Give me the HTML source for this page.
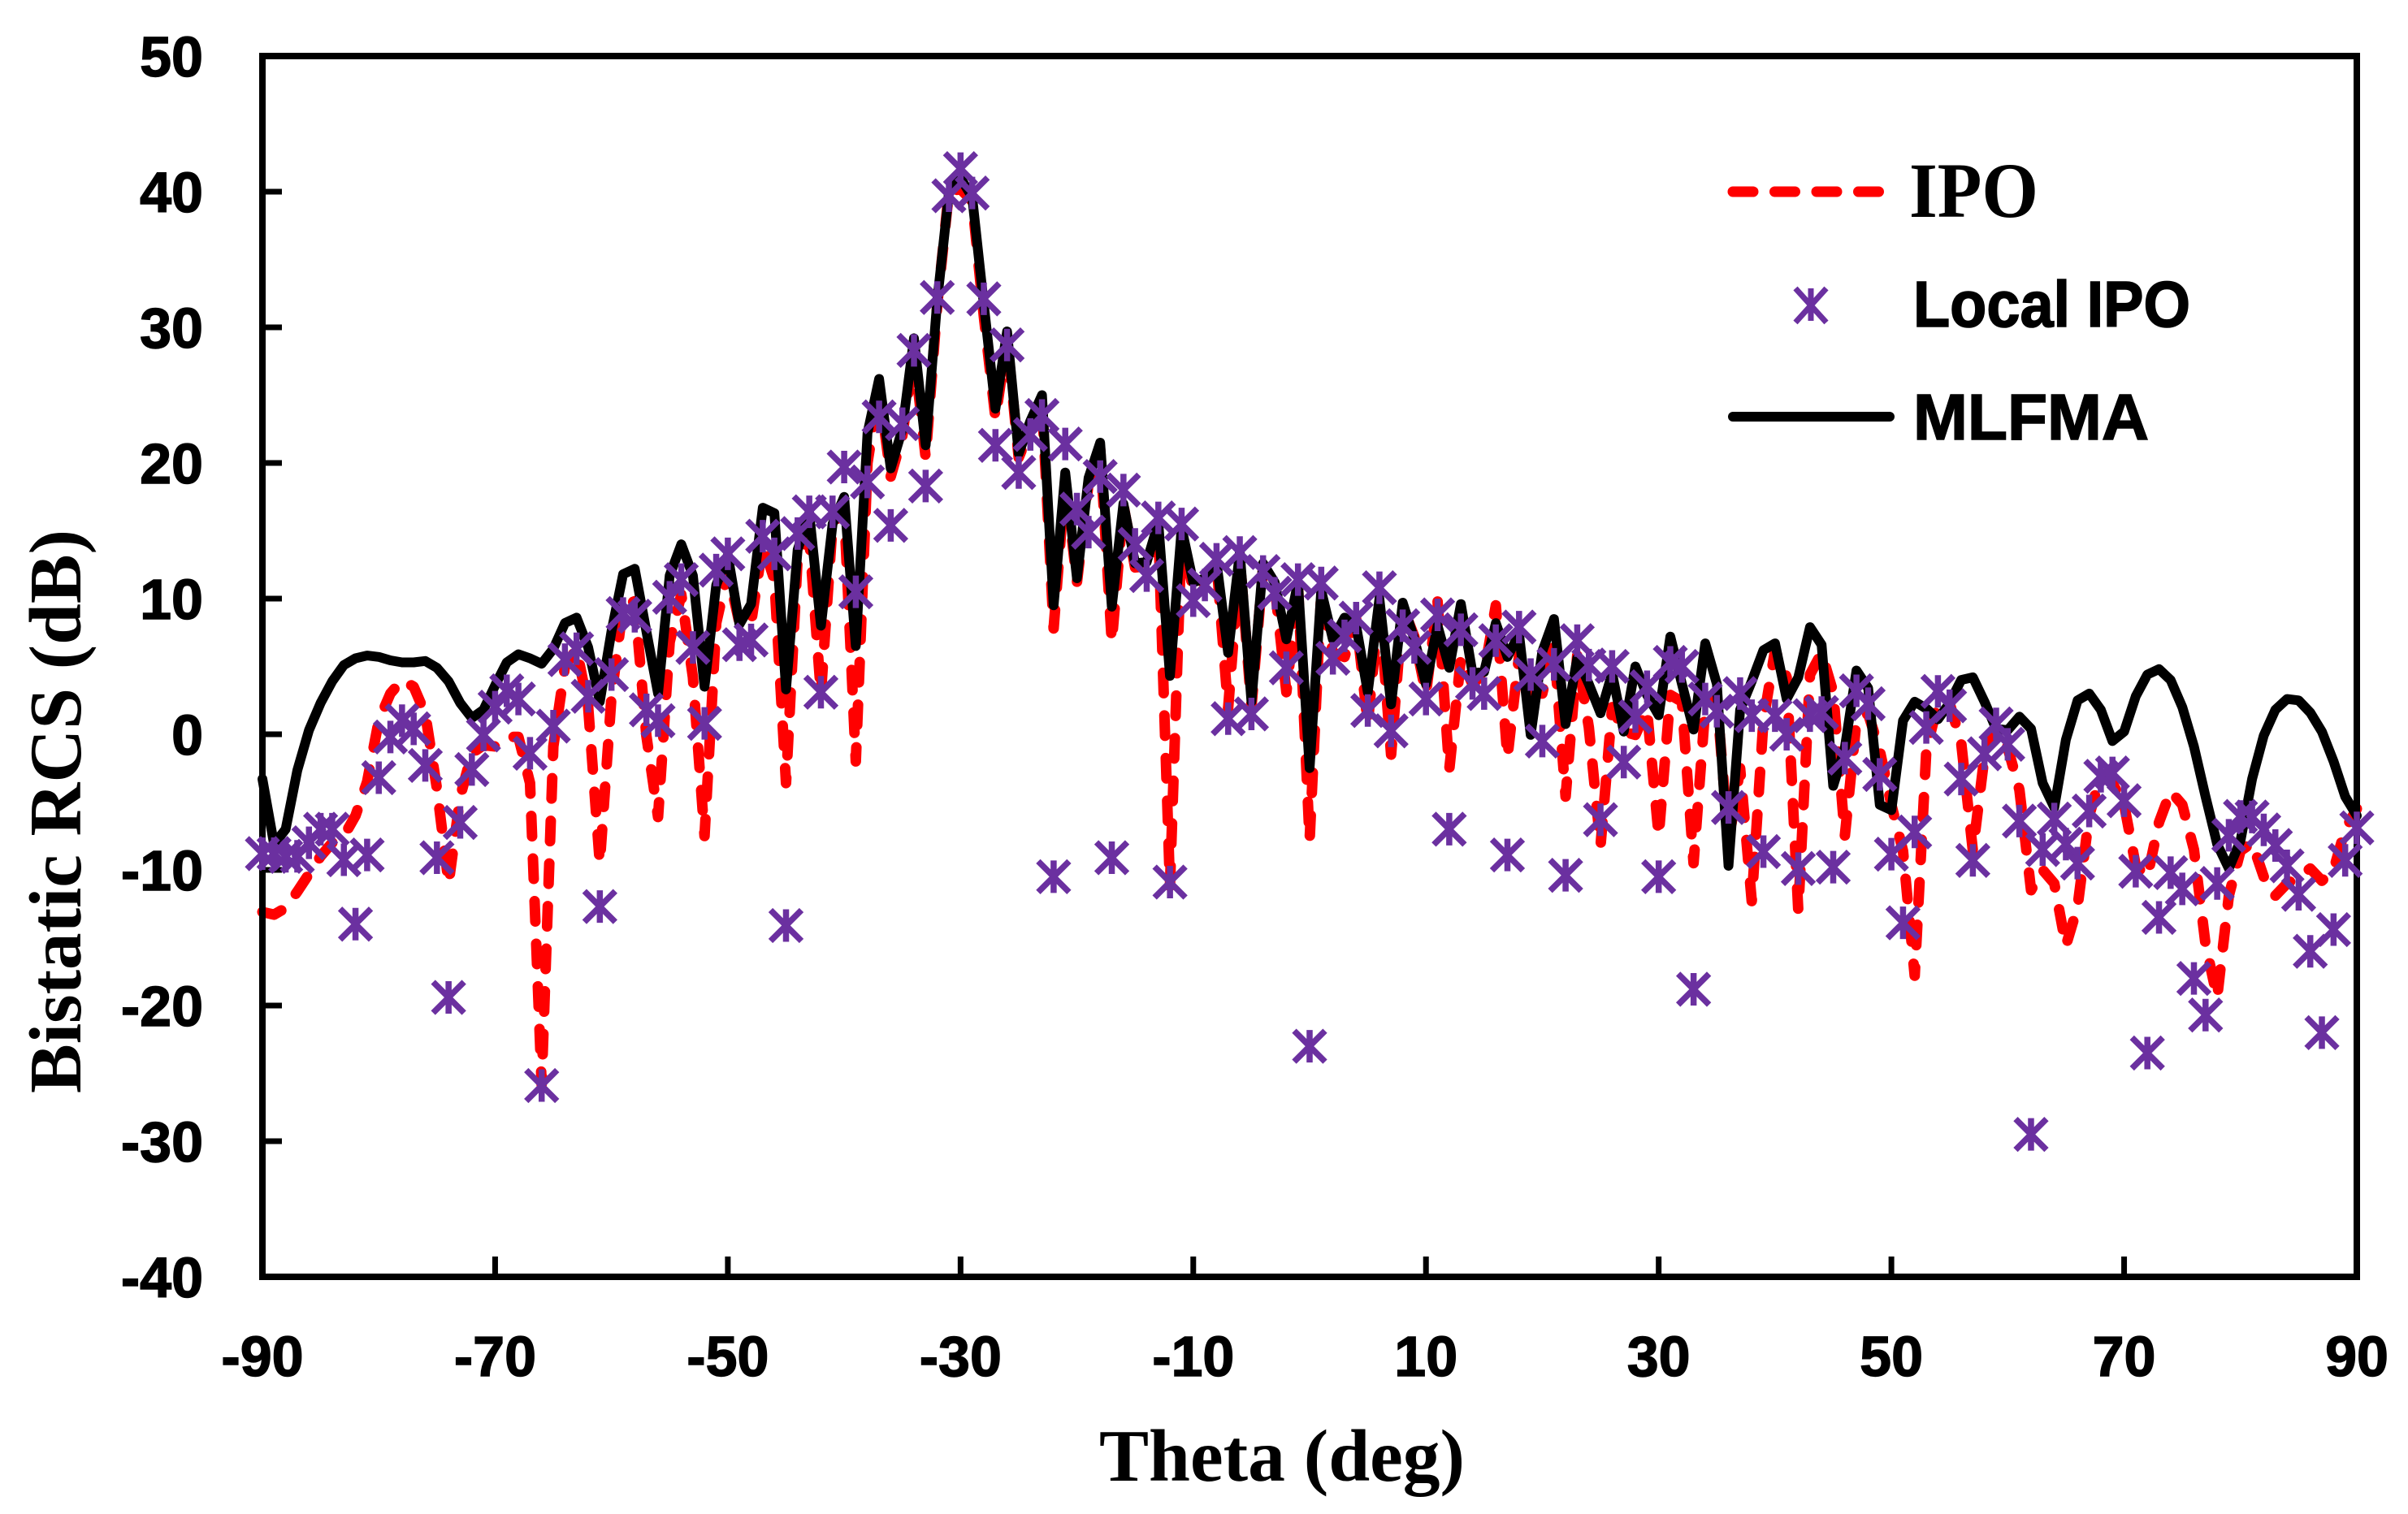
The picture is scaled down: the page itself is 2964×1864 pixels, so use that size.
<!DOCTYPE html>
<html lang="en">
<head>
<meta charset="utf-8">
<title>Bistatic RCS vs Theta</title>
<style>
html,body{margin:0;padding:0;background:#fff;}
svg{display:block;}
.tick-label{font-family:"Liberation Sans",sans-serif;font-weight:700;font-size:70px;fill:#000;stroke:#000;stroke-width:1.4px;}
.title{font-family:"Liberation Serif",serif;font-weight:700;font-size:91px;fill:#000;}
.leg-serif{font-family:"Liberation Serif",serif;font-weight:700;font-size:96px;fill:#000;}
.leg-sans{font-family:"Liberation Sans",sans-serif;font-weight:700;font-size:80px;fill:#000;stroke:#000;stroke-width:1.6px;}
</style>
</head>
<body>
<svg id="chart" xmlns="http://www.w3.org/2000/svg" width="2964" height="1864" viewBox="0 0 2964 1864">
  <rect x="0" y="0" width="2964" height="1864" fill="#fff"/>
  <g id="series-layer"></g>
  <g id="axis-layer"></g>
  <g id="marker-layer"></g>
  <text class="title" x="1578" y="1823" text-anchor="middle" textLength="450" lengthAdjust="spacingAndGlyphs">Theta (deg)</text>
  <text class="title" transform="translate(99,999) rotate(-90)" text-anchor="middle" textLength="694" lengthAdjust="spacingAndGlyphs">Bistatic RCS (dB)</text>
  <g>
    <g>
      <line x1="2133" y1="236" x2="2315" y2="236" stroke="#ff0000" stroke-width="13" stroke-linecap="round" stroke-dasharray="25 26.5"/>
      <text class="leg-serif" x="2350" y="267" textLength="159" lengthAdjust="spacingAndGlyphs">IPO</text>
    </g>
    <g>
      <path d="M2229 355V395M2210 355L2248 397M2248 355L2210 397" stroke="#6b30a0" stroke-width="7" fill="none"/>
      <text class="leg-sans" x="2355" y="402" textLength="341" lengthAdjust="spacingAndGlyphs">Local IPO</text>
    </g>
    <g>
      <line x1="2133" y1="513" x2="2326" y2="513" stroke="#000" stroke-width="12" stroke-linecap="round"/>
      <text class="leg-sans" x="2355" y="541" textLength="290" lengthAdjust="spacingAndGlyphs">MLFMA</text>
    </g>
  </g>
</svg>
<script>
const thetaDeg = [
-90,-89,-88,-87,-86,-85,-84,-83,-82,-81,
-80,-79,-78,-77,-76,-75,-74,-73,-72,-71,
-70,-69,-68,-67,-66,-65,-64,-63,-62,-61,
-60,-59,-58,-57,-56,-55,-54,-53,-52,-51,
-50,-49,-48,-47,-46,-45,-44,-43,-42,-41,
-40,-39,-38,-37,-36,-35,-34,-33,-32,-31,
-30,-29,-28,-27,-26,-25,-24,-23,-22,-21,
-20,-19,-18,-17,-16,-15,-14,-13,-12,-11,
-10,-9,-8,-7,-6,-5,-4,-3,-2,-1,
0,1,2,3,4,5,6,7,8,9,
10,11,12,13,14,15,16,17,18,19,
20,21,22,23,24,25,26,27,28,29,
30,31,32,33,34,35,36,37,38,39,
40,41,42,43,44,45,46,47,48,49,
50,51,52,53,54,55,56,57,58,59,
60,61,62,63,64,65,66,67,68,69,
70,71,72,73,74,75,76,77,78,79,
80,81,82,83,84,85,86,87,88,89,90];

const mlfmaValues = [
-3.3,-8.1,-7,-2.65,0.3,2.3,3.9,5.1,5.6,5.8,
5.7,5.45,5.3,5.3,5.4,4.9,3.9,2.3,1.2,1.8,
3.6,5.3,5.9,5.6,5.2,6.3,8.2,8.6,6.4,2.4,
7.6,11.8,12.2,7.6,3,11.7,14,11.7,3.5,11,
13.2,8.1,9.6,16.7,16.3,3.3,13.6,16.3,8,15.5,
17.5,6.5,22.2,26.2,19.6,22.5,29.2,21.3,32,39.9,
41,39.6,31.7,24,29.7,20.7,23.1,25,9.5,19.3,
11.5,18.9,21.5,9.4,17,12.6,12.7,15.6,4.3,15.2,
11.2,11.5,12.7,6,13.4,2.4,12.6,11.2,7,11.2,
-2.5,10.6,7,8.6,8,3.1,10,2.2,9.7,7,
3.7,8,4.9,9.6,4.5,4.6,8.2,5.7,7.4,-0.05,
6.1,8.5,0.75,5.6,3.7,1.55,4.5,0.2,5,2.9,
1.4,7.2,3.7,0.35,6.7,3.7,-9.7,1.8,3.9,6.2,
6.7,2.6,4.2,7.9,6.6,-3.8,-1,4.7,3.4,-5.2,
-5.6,1,2.4,1.9,1.1,2.3,4,4.2,2.4,0.4,
0.3,1.3,0.4,-3.6,-5.4,-0.4,2.5,3,1.8,-0.5,
0.2,2.8,4.4,4.8,4,2,-0.9,-4.6,-8.1,-9.9,
-7.85,-3.3,-0.1,1.8,2.6,2.5,1.6,0.2,-2,-4.6,-6];

const ipoValues = [
-13.1,-13.3,-12.8,-11.6,-10.3,-9,-8,-7.5,-6,-3.5,
1,3,4,3.5,1.5,-4,-11,-4.6,-1.4,-0.8,
-0.9,-0.2,-0.2,-3.6,-25.8,-0.9,5,6.3,2,-9.5,
2.8,9.5,9.8,-0.1,-6.1,6.8,10.3,4.2,-7.5,8.2,
12,8.2,8.2,14,11.4,-3.6,13,14.5,3,15.5,
16.5,-2,20,25.5,19,22,28.3,20.4,31.7,40,
40.2,39.3,30.8,23.3,29.2,20.4,22.5,24.5,7.8,18.8,
11.2,18.5,21,6.8,16.9,12.3,12.4,15.2,-11.2,14.9,
10.6,11.4,12.7,1.9,13,2,12.3,11,3.1,11,
-7.8,10.4,6,5.7,8.5,0.8,9.7,-1.5,9.4,7.2,
3,9.8,-2.6,5.6,3.7,4.5,9.5,-1.7,5.8,3.1,
3,6.6,-4.6,5.8,0.5,-8.2,2,0.2,-0.05,1.8,
-7.5,2.9,2.4,-9.5,2,2.6,-8,-2.5,-12.3,1,
6.2,4.2,-13,4.4,6,3.1,-7.5,1,1.5,-1.2,
-5.2,-8.6,-17.8,-1.2,2.3,2.3,-0.6,-8.6,-1.6,0.5,
-1,-4.1,-11.5,-10,-11,-15.6,-12.7,-6,-3,-3.6,
-5.2,-9.7,-10.5,-6.5,-4.2,-5.2,-8.5,-15.5,-19.4,-11.9,
-8.6,-8,-10.5,-11.9,-11,-10.5,-9.9,-10.8,-10,-7,-5.5];

const localIpoValues = [
-8.8,-8.8,-9,-9,-8,-7,-7,-9.25,-14,-8.9,
-3.2,-0.2,1,0.4,-2.3,-9.1,-19.4,-6.5,-2.6,-0.05,
2,3.2,2.6,-1.4,-25.9,0.6,5.5,6.3,2.8,-12.7,
4.4,8.9,8.7,1.8,1,10.1,11.4,6.4,0.8,12.1,
13.3,6.6,6.95,14.6,13.3,-14.1,14.8,16.4,3.1,16.4,
19.7,10.5,18.6,23.4,15.4,22.9,28.3,18.3,32.2,39.7,
41.7,39.9,32.1,21.3,28.7,19.3,22.1,23.5,-10.5,21.4,
16.6,14.9,19,-9.1,18,14,11.7,15.95,-10.9,15.5,
9.85,11,12.9,1.15,13.4,1.5,12,10.4,4.9,11.4,
-23,11.15,5.6,7.25,8.56,1.75,10.8,0.25,8,6.4,
2.6,8.8,-7,7.7,3.75,3,6.9,-8.9,7.9,4.4,
-0.5,5.16,-10.4,6.9,5.1,-6.3,5,-2.05,1.3,3.5,
-10.5,5.3,5,-18.8,2.6,1.7,-5.4,3,1.37,-8.65,
1.37,0,-9.9,1.37,1.6,-9.8,-1.76,3.2,2.25,-2.96,
-8.84,-13.9,-7.2,0.5,3.16,2.1,-3.3,-9.3,-1.44,0.76,
-0.74,-6.4,-29.5,-8.5,-6.25,-8.1,-9.5,-5.66,-3.1,-2.85,
-4.9,-10.1,-23.5,-13.5,-10.2,-11.4,-18,-20.7,-11,-7.45,
-6.06,-6.1,-7.05,-8.2,-9.7,-11.8,-16,-22,-14.4,-9.3,-6.9];

const xTickLabels = [-90,-70,-50,-30,-10,10,30,50,70,90];
const yTickLabels = [50,40,30,20,10,0,-10,-20,-30,-40];

const NS = 'http://www.w3.org/2000/svg';
const plotLeft = 323, plotRight = 2901, plotTop = 69, plotBottom = 1572;
const xMin = -90, xMax = 90, yMin = -40, yMax = 50;

function xScale(v) { return plotLeft + (v - xMin) / (xMax - xMin) * (plotRight - plotLeft); }
function yScale(v) { return plotBottom - (v - yMin) / (yMax - yMin) * (plotBottom - plotTop); }
function linePath(xs, ys) {
  return xs.map(function (x, i) {
    return (i ? 'L' : 'M') + xScale(x).toFixed(1) + ' ' + yScale(ys[i]).toFixed(1);
  }).join('');
}

const seriesLayer = document.getElementById('series-layer');
const axisLayer = document.getElementById('axis-layer');
const markerLayer = document.getElementById('marker-layer');

const ipoLine = document.createElementNS(NS, 'path');


ipoLine.setAttribute('d', linePath(thetaDeg, ipoValues));
ipoLine.setAttribute('fill', 'none');
ipoLine.setAttribute('stroke', '#ff0000');
ipoLine.setAttribute('stroke-width', '13');
ipoLine.setAttribute('stroke-linecap', 'round');
ipoLine.setAttribute('stroke-linejoin', 'round');
ipoLine.setAttribute('stroke-dasharray', '25 27.5');
seriesLayer.appendChild(ipoLine);

const mlfmaLine = document.createElementNS(NS, 'path');


mlfmaLine.setAttribute('d', linePath(thetaDeg, mlfmaValues));
mlfmaLine.setAttribute('fill', 'none');
mlfmaLine.setAttribute('stroke', '#000');
mlfmaLine.setAttribute('stroke-width', '12');
mlfmaLine.setAttribute('stroke-linecap', 'round');
mlfmaLine.setAttribute('stroke-linejoin', 'round');
seriesLayer.appendChild(mlfmaLine);

const frame = document.createElementNS(NS, 'rect');


frame.setAttribute('x', plotLeft);
frame.setAttribute('y', plotTop);
frame.setAttribute('width', plotRight - plotLeft);
frame.setAttribute('height', plotBottom - plotTop);
frame.setAttribute('fill', 'none');
frame.setAttribute('stroke', '#000');
frame.setAttribute('stroke-width', '8');
axisLayer.appendChild(frame);

xTickLabels.forEach(function (t) {
  const tick = document.createElementNS(NS, 'line');
  
  
  tick.setAttribute('x1', xScale(t));
  tick.setAttribute('x2', xScale(t));
  tick.setAttribute('y1', plotBottom);
  tick.setAttribute('y2', plotBottom - 25);
  tick.setAttribute('stroke', '#000');
  tick.setAttribute('stroke-width', '7');
  axisLayer.appendChild(tick);
  const label = document.createElementNS(NS, 'text');
  
  
  label.setAttribute('class', 'tick-label');
  label.setAttribute('x', xScale(t));
  label.setAttribute('y', 1694);
  label.setAttribute('text-anchor', 'middle');
  label.textContent = String(t);
  axisLayer.appendChild(label);
});

yTickLabels.forEach(function (t) {
  const tick = document.createElementNS(NS, 'line');
  
  
  tick.setAttribute('x1', plotLeft);
  tick.setAttribute('x2', plotLeft + 24);
  tick.setAttribute('y1', yScale(t));
  tick.setAttribute('y2', yScale(t));
  tick.setAttribute('stroke', '#000');
  tick.setAttribute('stroke-width', '7');
  axisLayer.appendChild(tick);
  const label = document.createElementNS(NS, 'text');
  
  
  label.setAttribute('class', 'tick-label');
  label.setAttribute('x', 250);
  label.setAttribute('y', yScale(t) + 25);
  label.setAttribute('text-anchor', 'end');
  label.textContent = String(t);
  axisLayer.appendChild(label);
});

thetaDeg.forEach(function (t, i) {
  const cx = xScale(t), cy = yScale(localIpoValues[i]);
  const marker = document.createElementNS(NS, 'path');
  
  
  marker.setAttribute('d',
    'M' + cx + ' ' + (cy - 20) + 'V' + (cy + 20) +
    'M' + (cx - 19) + ' ' + (cy - 19) + 'L' + (cx + 19) + ' ' + (cy + 19) +
    'M' + (cx + 19) + ' ' + (cy - 19) + 'L' + (cx - 19) + ' ' + (cy + 19));
  marker.setAttribute('fill', 'none');
  marker.setAttribute('stroke', '#6b30a0');
  marker.setAttribute('stroke-width', '7.5');
  markerLayer.appendChild(marker);
});
</script>
</body>
</html>
